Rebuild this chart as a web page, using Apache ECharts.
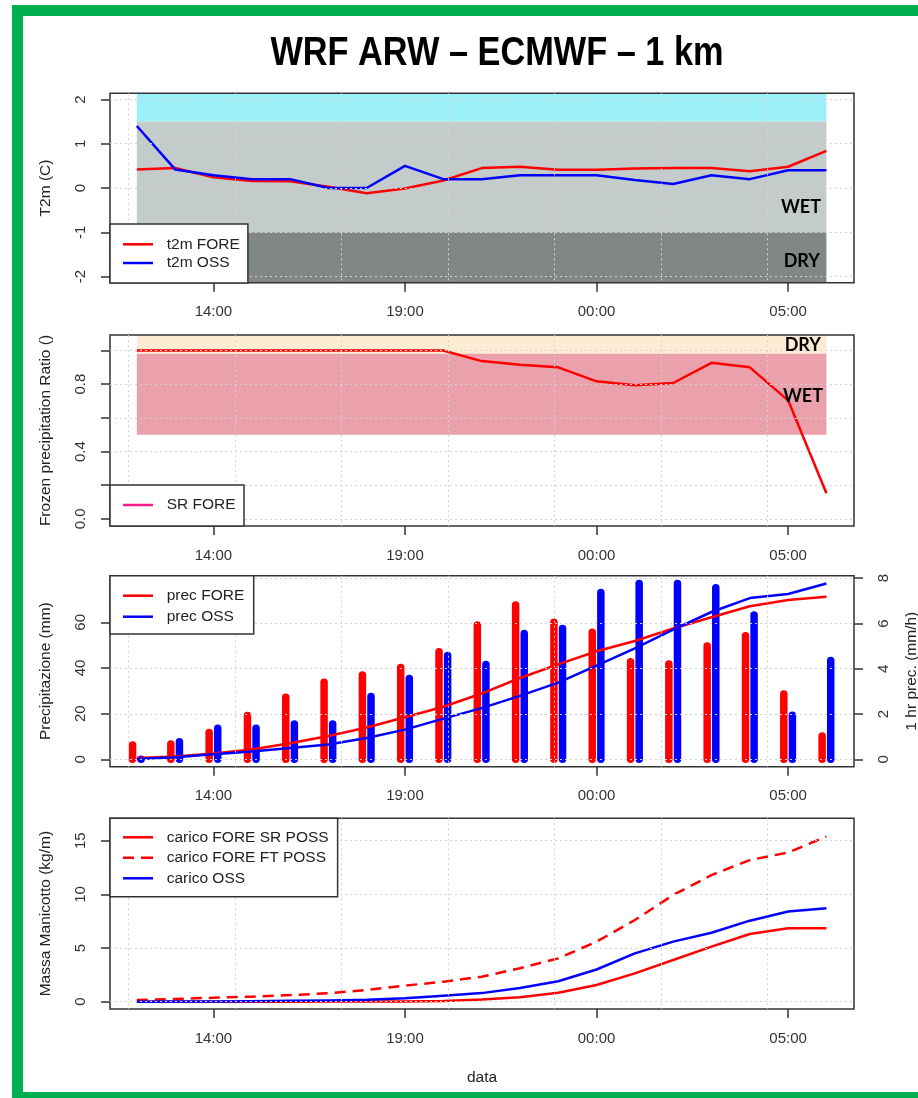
<!DOCTYPE html>
<html><head><meta charset="utf-8">
<script src="https://cdn.jsdelivr.net/npm/echarts@6/dist/echarts.min.js"></script>
<style>html,body{margin:0;padding:0;background:#fff}#c{width:918px;height:1098px}</style>
</head><body><div id="c"></div>
<script>
// ---------- data ----------
const times = ['12:00','13:00','14:00','15:00','16:00','17:00','18:00','19:00','20:00','21:00','22:00','23:00','00:00','01:00','02:00','03:00','04:00','05:00','06:00'];
const tickLabels = ['14:00','19:00','00:00','05:00'];
const gridHours = [-0.22, 2.56, 5.34, 8.12, 10.90, 13.68, 16.46];

const t2mFore = [0.42,0.45,0.24,0.16,0.15,0.03,-0.12,-0.01,0.17,0.45,0.48,0.41,0.41,0.44,0.45,0.45,0.38,0.48,0.84];
const t2mOss  = [1.40,0.42,0.29,0.20,0.20,0.00,0.00,0.50,0.20,0.20,0.29,0.29,0.29,0.18,0.09,0.29,0.20,0.40,0.40];
const t2mTicks = [-2,-1,0,1,2];
const t2mDryLimit = -1, t2mWetLimit = 1.5;

const srFore = [1,1,1,1,1,1,1,1,1,0.937,0.915,0.90,0.817,0.793,0.807,0.927,0.90,0.704,0.152];
const srTicks = [0,0.2,0.4,0.6,0.8,1.0];
const srLabels = [0,0.4,0.8];
const srDryLimit = 0.98, srWetLimit = 0.5;

const precHourFore = [0.63,0.67,1.18,1.93,2.74,3.40,3.72,4.06,4.75,5.93,6.81,6.05,5.61,4.31,4.21,5.00,5.46,2.88,1.03];
const precHourOss  = [0.00,0.78,1.37,1.37,1.56,1.56,2.77,3.57,4.58,4.19,5.56,5.78,7.37,7.77,7.77,7.58,6.37,1.95,4.36];
const precCumFore  = [0.6,1.2,2.5,4.3,7.0,10.2,13.9,18.4,23.0,28.8,35.6,41.6,47.3,51.8,57.3,62.2,67.0,69.8,71.2];
const precCumOss   = [0.1,0.9,2.2,3.4,4.9,6.5,9.3,13.0,17.8,22.4,27.8,33.6,41.0,48.6,56.8,64.5,70.6,72.4,77.0];
const precTicks = [0,20,40,60];
const precHourTicks = [0,2,4,6,8];

const caricoSR  = [0,0,0,0,0,0.01,0.02,0.03,0.06,0.20,0.42,0.84,1.56,2.64,3.89,5.13,6.31,6.84,6.84];
const caricoFT  = [0.15,0.25,0.37,0.47,0.62,0.78,1.09,1.50,1.86,2.33,3.11,4.04,5.59,7.61,9.94,11.8,13.2,13.9,15.4];
const caricoOss = [0,0.01,0.03,0.05,0.08,0.12,0.18,0.32,0.55,0.80,1.28,1.90,3.00,4.50,5.60,6.43,7.55,8.40,8.70];
const caricoTicks = [0,5,10,15];

// ---------- layout / style ----------
const FONT = '"Liberation Sans", Arial, Helvetica, sans-serif';
const X_MIN = -0.70, X_MAX = 18.72;
const tickPos = tickLabels.map(l => times.indexOf(l));
const lastIdx = times.length - 1;
const xy = arr => arr.map((v, i) => [i, v]);
const grids = [
  {top: 93.3, height: 189.4},
  {top: 335, height: 191},
  {top: 575.7, height: 191},
  {top: 818.3, height: 190.7}
].map(g => Object.assign({left: 110, right: 64, show: true, borderColor: '#333', borderWidth: 1.5,
  backgroundColor: 'transparent', z: 3, containLabel: false, outerBoundsMode: 'none'}, g));

const txt = {fontFamily: FONT, color: '#222'};
const xAxes = [];
for (let g = 0; g < 4; g++) {
  xAxes.push({
    type: 'value', gridIndex: g, min: X_MIN, max: X_MAX, position: 'bottom', z: 3,
    axisLine: {show: false, onZero: false},
    axisTick: {show: true, customValues: tickPos, length: 9, lineStyle: {color: '#333', width: 1.5}},
    axisLabel: {show: true, customValues: tickPos, formatter: v => times[Math.round(v)], margin: 22, fontSize: 15, fontFamily: FONT, color: '#333'},
    splitLine: {show: false},
    name: g === 3 ? 'data' : '', nameLocation: 'middle', nameGap: 61,
    nameTextStyle: Object.assign({fontSize: 15.5}, txt)
  });
  xAxes.push({
    type: 'value', gridIndex: g, min: X_MIN, max: X_MAX, position: 'top', z: 3,
    axisLine: {show: false, onZero: false},
    axisTick: {show: false, customValues: gridHours},
    axisLabel: {show: false},
    splitLine: {show: true, lineStyle: {color: '#d3d3d3', width: 1, type: [2, 3]}}
  });
}
function yAx(g, min, max, ticks, labels, name, opts) {
  return Object.assign({
    type: 'value', gridIndex: g, min: min, max: max, z: 3,
    axisLine: {show: false, onZero: false},
    axisTick: {show: true, customValues: ticks, length: 9, lineStyle: {color: '#333', width: 1.5}},
    axisLabel: {show: true, customValues: labels, rotate: 90, margin: 22, fontSize: 15, fontFamily: FONT, color: '#333'},
    splitLine: {show: true, lineStyle: {color: '#d3d3d3', width: 1, type: [2, 3]}},
    name: name, nameLocation: 'middle', nameGap: 56,
    nameTextStyle: Object.assign({fontSize: 15.5}, txt)
  }, opts || {});
}
const yAxes = [
  yAx(0, -2.14, 2.14, t2mTicks, t2mTicks, 'T2m (C)'),
  yAx(1, -0.042, 1.092, srTicks, srLabels, 'Frozen precipitation Ratio ()'),
  yAx(2, -3.24, 80.4, precTicks, precTicks, 'Precipitazione (mm)', {splitLine: {show: false}}),
  yAx(2, -0.327, 8.11, precHourTicks, precHourTicks, '1 hr prec. (mm/h)', {position: 'right', nameGap: 50}),
  yAx(3, -0.68, 17.09, caricoTicks, caricoTicks, 'Massa Manicotto (kg/m)')
];
yAxes[1].axisLabel.formatter = v => v.toFixed(1);

function line(name, data, xi, yi, color, extra) {
  return Object.assign({
    type: 'line', name: name, data: xy(data), xAxisIndex: xi, yAxisIndex: yi,
    symbol: 'none', showSymbol: false, color: color, z: 2,
    lineStyle: {color: color, width: 2.5, join: 'round'}
  }, extra || {});
}
function bars(name, data, xi, yi, color, shift) {
  return {
    type: 'custom', name: name, data: xy(data), xAxisIndex: xi, yAxisIndex: yi, z: 2,
    color: color, encode: {x: 0, y: 1},
    renderItem: (params, api) => {
      const x = api.value(0), v = api.value(1);
      const p0 = api.coord([x, 0]), p1 = api.coord([x, v]);
      return {type: 'line', shape: {x1: p0[0] + shift, y1: p0[1], x2: p1[0] + shift, y2: p1[1] - 0.01},
        style: {stroke: color, lineWidth: 7.5, lineCap: 'round'}};
    }
  };
}
function bands(xi, yi, areas) {
  return {type: 'line', name: 'bands' + xi, data: [], xAxisIndex: xi, yAxisIndex: yi, silent: true,
    markArea: {silent: true, label: {show: false},
      data: areas.map(a => [{xAxis: 0, yAxis: a[0], itemStyle: {color: a[2], opacity: 1}}, {xAxis: lastIdx, yAxis: a[1]}])}};
}

const series = [
  bands(0, 0, [[t2mWetLimit, 2.14, '#9cf1f8'], [t2mDryLimit, t2mWetLimit, '#c3cccb'], [-2.14, t2mDryLimit, '#818786']]),
  line('t2m FORE', t2mFore, 0, 0, '#ff0000'),
  line('t2m OSS', t2mOss, 0, 0, '#0000ff'),
  bands(2, 1, [[srDryLimit, 1.092, '#fdebd4'], [srWetLimit, srDryLimit, '#eaa1ac']]),
  line('SR FORE', srFore, 2, 1, '#ff0000'),
  bars('hour FORE', precHourFore, 4, 3, '#ff0000', -4.3),
  bars('hour OSS', precHourOss, 4, 3, '#0000ff', 4.3),
  line('prec FORE', precCumFore, 4, 2, '#ff0000'),
  line('prec OSS', precCumOss, 4, 2, '#0000ff'),
  line('carico FORE SR POSS', caricoSR, 6, 4, '#ff0000'),
  line('carico FORE FT POSS', caricoFT, 6, 4, '#ff0000', {lineStyle: {color: '#ff0000', width: 2.5, type: [11, 7]}}),
  line('carico OSS', caricoOss, 6, 4, '#0000ff')
];

const DASH_ICON = 'path://M0,0h11v2.5h-11z M18,0h12v2.5h-12z';
function leg(data, top, padding, gap) {
  return {
    data: data, orient: 'vertical', left: 110, top: top, padding: padding, itemGap: gap,
    icon: 'rect', itemWidth: 30, itemHeight: 2.5, backgroundColor: '#fff', borderColor: '#333', borderWidth: 1.5,
    borderRadius: 0, z: 10, selectedMode: false,
    textStyle: {fontSize: 15.5, fontFamily: FONT, color: '#222', lineHeight: 16, padding: [0, 0, 0, 8.7]}
  };
}
const legends = [
  leg(['t2m FORE', 't2m OSS'], 224, [12.3, 8, 12, 13], 2.7),
  leg([{name: 'SR FORE', itemStyle: {color: '#ff1a8c'}}], 485, [12, 8.4, 13, 13], 0),
  leg(['prec FORE', 'prec OSS'], 575.7, [12, 9.5, 9.3, 13], 5),
  leg(['carico FORE SR POSS', {name: 'carico FORE FT POSS', icon: DASH_ICON}, 'carico OSS'], 818.3, [11, 9, 10.4, 13], 4.5)
];

const lbl = (text, x, y) => ({type: 'text', x: x, y: y, z: 20,
  style: {text: text, font: 'bold 18px Lato, "Open Sans", sans-serif', align: 'right', verticalAlign: 'middle', fill: '#000'}});

const chart = echarts.init(document.getElementById('c'), null, {renderer: 'canvas'});
chart.setOption({
  animation: false,
  backgroundColor: '#fff',
  grid: grids,
  xAxis: xAxes,
  yAxis: yAxes,
  legend: legends,
  series: series,
  graphic: [
    {type: 'rect', z: 30, shape: {x: 17.5, y: 10.5, width: 920, height: 1087},
      style: {fill: 'transparent', stroke: '#00b050', lineWidth: 11}},
    {type: 'text', x: 497, y: 54, scaleX: 0.858, z: 20,
      style: {text: 'WRF ARW – ECMWF – 1 km', font: 'bold 40px "Liberation Sans", Arial, sans-serif', align: 'center', verticalAlign: 'middle', fill: '#000'}},
    lbl('WET', 821, 207), lbl('DRY', 820, 261),
    lbl('DRY', 821, 345.5), lbl('WET', 823, 396)
  ]
});
</script></body></html>
